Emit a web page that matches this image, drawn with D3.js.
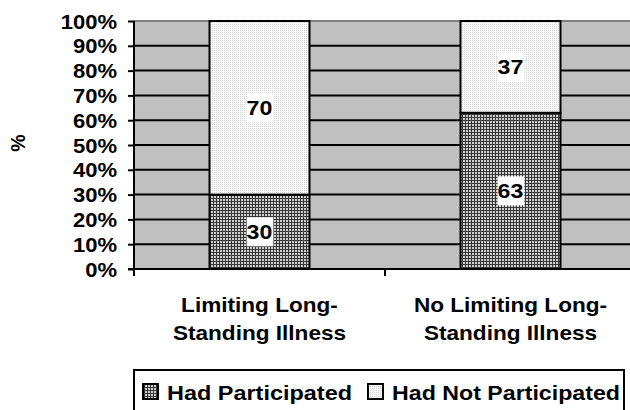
<!DOCTYPE html>
<html><head><meta charset="utf-8">
<script src="https://cdn.jsdelivr.net/npm/d3@7"></script>
<style>body{margin:0;background:#fff}svg{display:block;font-family:Arial,"Liberation Sans",sans-serif;font-weight:bold}</style>
</head><body><svg id="c" width="630" height="410"></svg>
<script>
const categories = [["Limiting Long-","Standing Illness"],["No Limiting Long-","Standing Illness"]];
const seriesNames = ["Had Participated","Had Not Participated"];
const participated = [30, 63];
const notParticipated = [70, 37];
const yTicks = [0,10,20,30,40,50,60,70,80,90,100];

const svg = d3.select("#c");
const defs = svg.append("defs");
const pd = defs.append("pattern").attr("id","pDark").attr("patternUnits","userSpaceOnUse").attr("width",3).attr("height",3);
pd.append("rect").attr("width",3).attr("height",3).attr("fill","#d0d0d0");
pd.append("rect").attr("width",3).attr("height",1).attr("fill","#383838");
pd.append("rect").attr("width",1).attr("height",3).attr("fill","#383838");
const pl = defs.append("pattern").attr("id","pLight").attr("patternUnits","userSpaceOnUse").attr("width",2).attr("height",2);
pl.append("rect").attr("width",2).attr("height",2).attr("fill","#fafafa");
pl.append("rect").attr("width",1).attr("height",1).attr("fill","#d4d4d4");

const L=134, R=636, T=21, B=269;
const sx = 1.13; // horizontal stretch of the reference lettering
const x = d3.scaleBand().domain(d3.range(categories.length)).range([L,R]).paddingInner(0).paddingOuter(0);
const y = d3.scaleLinear().domain([0,100]).range([B,T]);
const barW = 100;

svg.append("rect").attr("x",L).attr("y",T).attr("width",R-L).attr("height",B-T).attr("fill","#c0c0c0");
svg.append("g").selectAll("line").data(yTicks.slice(1)).join("line")
  .attr("x1",L).attr("x2",R).attr("y1",d=>y(d)).attr("y2",d=>y(d))
  .attr("stroke",d=>d===100?"#808080":"#000").attr("stroke-width",2);

const stacks = categories.map((c,i)=>[
  {y0:0,y1:participated[i],fill:"url(#pDark)",v:participated[i]},
  {y0:participated[i],y1:participated[i]+notParticipated[i],fill:"url(#pLight)",v:notParticipated[i]}
]);
stacks.forEach((segs,i)=>{
  const cx = x(i)+x.bandwidth()/2;
  segs.forEach(s=>{
    svg.append("rect").attr("x",cx-barW/2).attr("y",y(s.y1)).attr("width",barW).attr("height",y(s.y0)-y(s.y1))
      .attr("fill",s.fill).attr("stroke","#000").attr("stroke-width",2);
  });
  segs.forEach(s=>{
    const my = y((s.y0+s.y1)/2);
    const t = svg.append("text").attr("x",cx/sx).attr("y",my).attr("text-anchor","middle").attr("dy","0.36em")
      .attr("transform",`scale(${sx},1)`).attr("font-size",20.5).attr("fill","#000").text(s.v);
    const bb = t.node().getBBox();
    svg.insert("rect", ()=>t.node()).attr("x",bb.x*sx).attr("y",my-14.5).attr("width",bb.width*sx+1).attr("height",29).attr("fill","#fff");
  });
});

// y axis
const ya = svg.append("g").attr("transform",`translate(${L},0)`).call(d3.axisLeft(y).tickValues(yTicks).tickSize(6).tickFormat(d=>d+"%"));
ya.select(".domain").attr("stroke","#000").attr("stroke-width",2).attr("d",`M0,${T}V${B}`);
ya.selectAll(".tick line").attr("stroke","#000").attr("stroke-width",2);
ya.selectAll(".tick text").attr("font-size",19.5).attr("font-family","Arial,'Liberation Sans',sans-serif").attr("font-weight","bold").attr("fill","#000")
  .attr("x",-17/sx).attr("dy","0.36em").attr("transform",`scale(${sx},1)`);

// x axis
svg.append("line").attr("x1",L-6).attr("x2",R).attr("y1",B).attr("y2",B).attr("stroke","#000").attr("stroke-width",2);
svg.append("g").selectAll("line").data(d3.range(categories.length+1)).join("line")
  .attr("x1",d=>d<categories.length?x(d):R).attr("x2",d=>d<categories.length?x(d):R)
  .attr("y1",B).attr("y2",B+7).attr("stroke","#000").attr("stroke-width",2);
categories.forEach((c,i)=>{
  const cx = x(i)+x.bandwidth()/2;
  c.forEach((line,j)=>{
    svg.append("text").attr("x",cx/sx).attr("y",312+j*28).attr("transform",`scale(${sx},1)`)
      .attr("text-anchor","middle").attr("font-size",20).text(line);
  });
});

svg.append("text").attr("transform","translate(25,143) rotate(-90)").attr("text-anchor","middle").attr("font-size",19.5).text("%");

// legend
svg.append("rect").attr("x",134).attr("y",370).attr("width",490).attr("height",44).attr("fill","#fff").attr("stroke","#000").attr("stroke-width",2);
const lg = [{n:seriesNames[0],f:"url(#pDark)",x:143,w:185},{n:seriesNames[1],f:"url(#pLight)",x:368,w:228}];
lg.forEach(d=>{
  svg.append("rect").attr("x",d.x).attr("y",384).attr("width",15).attr("height",15).attr("fill",d.f).attr("stroke","#000").attr("stroke-width",2);
  svg.append("text").attr("x",d.x+24).attr("y",400).attr("font-size",21).attr("textLength",d.w).attr("lengthAdjust","spacingAndGlyphs").text(d.n);
});
</script></body></html>
